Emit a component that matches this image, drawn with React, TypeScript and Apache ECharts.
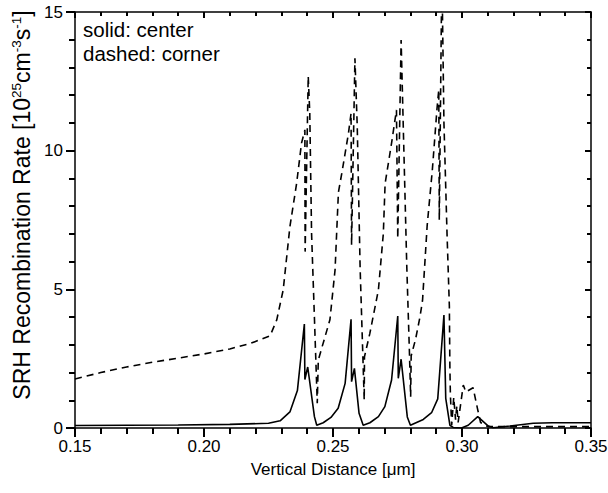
import React, { useEffect, useRef } from "react";
import * as echarts from "echarts";

// Vertical distance [µm] and SRH recombination rate [1e25 cm^-3 s^-1]
const centerX = [0.150, 0.170, 0.190, 0.210, 0.225, 0.2295, 0.2333, 0.2362, 0.2389, 0.2391, 0.2402, 0.2428, 0.2437, 0.2462, 0.2492, 0.2520, 0.2547, 0.2570, 0.2572, 0.2583, 0.2601, 0.2617, 0.2643, 0.2676, 0.2701, 0.2727, 0.2751, 0.2753, 0.2764, 0.2788, 0.2800, 0.2850, 0.2882, 0.2906, 0.2930, 0.2937, 0.2953, 0.2966, 0.2998, 0.3024, 0.3061, 0.3102, 0.3121, 0.3186, 0.3276, 0.3350, 0.3500];
const centerY = [0.09, 0.10, 0.11, 0.13, 0.17, 0.26, 0.58, 1.35, 3.75, 1.75, 2.2, 0.41, 0.10, 0.19, 0.38, 0.71, 1.61, 3.92, 1.67, 2.15, 0.53, 0.10, 0.19, 0.41, 0.77, 1.73, 4.04, 1.79, 2.48, 0.40, 0.10, 0.31, 0.55, 1.05, 4.07, 1.07, 0.10, 0.02, 0.00, 0.10, 0.41, 0.07, 0.01, 0.07, 0.17, 0.19, 0.19];

const cornerX = [0.150, 0.160, 0.170, 0.180, 0.190, 0.200, 0.210, 0.218, 0.2256, 0.2282, 0.2307, 0.2333, 0.2359, 0.2378, 0.2391, 0.2392, 0.2404, 0.2410, 0.2417, 0.2430, 0.2439, 0.2443, 0.2488, 0.2508, 0.2521, 0.2534, 0.2560, 0.2570, 0.2572, 0.2585, 0.2594, 0.2605, 0.2615, 0.2621, 0.2622, 0.2643, 0.2676, 0.2695, 0.2702, 0.2727, 0.2746, 0.2751, 0.2764, 0.2773, 0.2786, 0.2796, 0.2801, 0.2803, 0.2820, 0.2837, 0.2847, 0.2865, 0.2885, 0.2903, 0.2910, 0.2912, 0.2922, 0.2930, 0.2942, 0.2951, 0.2953, 0.2955, 0.2960, 0.2968, 0.2975, 0.2980, 0.2985, 0.3005, 0.3015, 0.3043, 0.3060, 0.3072, 0.3100, 0.3500];
const cornerY = [1.77, 2.0, 2.2, 2.37, 2.52, 2.67, 2.85, 3.05, 3.32, 3.9, 4.98, 7.26, 8.82, 10.27, 10.75, 6.36, 12.69, 11.35, 7.0, 3.42, 0.89, 2.45, 3.9, 5.7, 8.5, 9.18, 10.63, 11.35, 6.6, 13.33, 10.87, 5.82, 2.81, 1.01, 2.57, 3.42, 4.98, 7.0, 8.82, 10.27, 11.47, 6.84, 13.99, 10.63, 5.82, 2.81, 1.13, 2.6, 3.2, 4.0, 4.6, 7.3, 9.3, 11.5, 12.2, 7.5, 16.5, 11.0, 7.0, 4.4, 2.2, 1.2, 0.1, 1.1, 0.3, 0.8, 0.2, 1.55, 1.3, 1.45, 0.7, 0.2, 0.05, 0.05];

const xTicks = [0.15, 0.2, 0.25, 0.3, 0.35];
const yTicks = [0, 5, 10, 15];
const notes = ["solid: center", "dashed: corner"];

const FONT = "'Liberation Sans', Arial, Helvetica, sans-serif";

export default function App() {
  const ref = useRef<HTMLDivElement>(null);
  useEffect(() => {
    if (!ref.current) return;
    const chart = echarts.init(ref.current, undefined, { renderer: "svg" });
    const tickStyle = { color: "#000", width: 2, opacity: 1 };
    const axisLine = { show: true, onZero: false, lineStyle: { color: "#000", width: 1.5 } };
    const xBase = {
      type: "value" as const,
      min: xTicks[0],
      max: xTicks[xTicks.length - 1],
      interval: 0.05,
      splitLine: { show: false },
      minorSplitLine: { show: false },
      axisLine,
    };
    const yBase = {
      type: "value" as const,
      min: yTicks[0],
      max: yTicks[yTicks.length - 1],
      interval: 5,
      splitLine: { show: false },
      minorSplitLine: { show: false },
      axisLine,
    };
    chart.setOption({
      animation: false,
      backgroundColor: "#fff",
      grid: { left: 75, right: 17, top: 12, bottom: 65, containLabel: false, outerBoundsMode: "none" },
      xAxis: [
        {
          ...xBase,
          position: "bottom",
          axisTick: { show: true, inside: false, length: 9, lineStyle: tickStyle },
          minorTick: { show: true, splitNumber: 5, length: 6, lineStyle: tickStyle },
          axisLabel: {
            show: true, color: "#000", fontSize: 17, fontFamily: FONT, margin: 10,
            formatter: (v: number) => v.toFixed(2),
          },
          name: "Vertical Distance [\u03bcm]",
          nameLocation: "middle",
          nameGap: 33,
          nameTextStyle: { color: "#000", fontSize: 17, fontFamily: FONT },
        },
        {
          ...xBase,
          position: "top",
          axisTick: { show: true, inside: true, length: 6, lineStyle: tickStyle },
          minorTick: { show: true, splitNumber: 5, length: 4, lineStyle: tickStyle },
          axisLabel: { show: false },
        },
      ],
      yAxis: [
        {
          ...yBase,
          position: "left",
          axisTick: { show: true, inside: false, length: 9, lineStyle: tickStyle },
          minorTick: { show: true, splitNumber: 5, length: 6, lineStyle: tickStyle },
          axisLabel: { show: true, color: "#000", fontSize: 17, fontFamily: FONT, margin: 12 },
          name: "{n|SRH Recombination Rate [10}{s|25}{n|cm}{s|-3}{n|s}{s|-1}{n|]}",
          nameLocation: "middle",
          nameRotate: 90,
          nameGap: 40,
          nameTextStyle: {
            color: "#000",
            fontFamily: FONT,
            padding: [0, 0, 0, 30],
            rich: {
              n: { fontSize: 23, fontFamily: FONT, color: "#000" },
              s: { fontSize: 13.5, fontFamily: FONT, color: "#000", padding: [0, 0, 11, 0] },
            },
          },
        },
        {
          ...yBase,
          position: "right",
          axisTick: { show: true, inside: true, length: 6, lineStyle: tickStyle },
          minorTick: { show: true, splitNumber: 5, length: 4, lineStyle: tickStyle },
          axisLabel: { show: false },
        },
      ],
      graphic: notes.map((t, i) => ({
        type: "text",
        left: 83,
        top: 19 + i * 24,
        style: { text: t, fill: "#000", fontSize: 20.5, fontFamily: FONT },
      })),
      series: [
        {
          type: "line",
          name: "center",
          data: centerX.map((x, i) => [x, centerY[i]]),
          showSymbol: false,
          lineStyle: { color: "#000", width: 1.6, type: "solid" },
          clip: true,
        },
        {
          type: "line",
          name: "corner",
          data: cornerX.map((x, i) => [x, cornerY[i]]),
          showSymbol: false,
          lineStyle: { color: "#000", width: 1.6, type: [7, 5] },
          clip: true,
        },
      ],
    });
    return () => chart.dispose();
  }, []);
  return <div ref={ref} style={{ position: "fixed", left: 0, top: 0, width: 608, height: 493 }} />;
}
